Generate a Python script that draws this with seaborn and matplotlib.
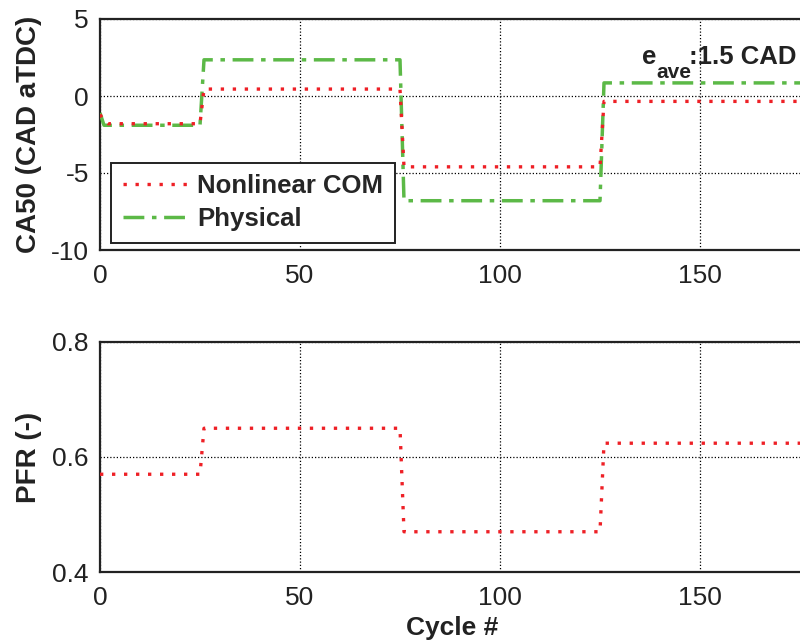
import numpy as np
import pandas as pd
import matplotlib
matplotlib.use("Agg")
import matplotlib.pyplot as plt
import seaborn as sns

# --- data -----------------------------------------------------------------
# breakpoints of the step-wise traces (cycle number, value)
com_cycles = [0, 1, 2, 25, 26, 75, 76, 125, 126, 176]
com_ca50 = [-1.2, -1.6, -1.8, -1.8, 0.45, 0.45, -4.6, -4.6, -0.35, -0.35]

phys_cycles = [0, 1, 25, 26, 75, 76, 125, 126, 176]
phys_ca50 = [-1.1, -1.9, -1.9, 2.35, 2.35, -6.8, -6.8, 0.85, 0.85]

pfr_cycles = [0, 25, 26, 75, 76, 125, 126, 176]
pfr_com = [0.57, 0.57, 0.65, 0.65, 0.47, 0.47, 0.624, 0.624]

x_ticks = [0, 50, 100, 150]
ca50_ticks = [5, 0, -5, -10]
pfr_ticks = [0.8, 0.6, 0.4]

series_names = ["Nonlinear COM", "Physical"]
error_text = ["e", "ave", ":1.5 CAD"]

# --- style ----------------------------------------------------------------
sns.set_style("white")
plt.rcParams["font.family"] = ["Liberation Sans", "DejaVu Sans"]

RED = "#ee2026"
GREEN = "#5cb947"
DOT = (0, (1, 2.6))
DASHDOT = (0, (6.0, 2.2, 1.3, 2.2))

fig = plt.figure(figsize=(8.0, 6.43), dpi=100)
W, H = 800, 643
ax1 = fig.add_axes([100 / W, 1 - 250 / H, 704 / W, 231 / H])
ax2 = fig.add_axes([100 / W, 1 - 572 / H, 704 / W, 230 / H])

df_com = pd.DataFrame({"cycle": com_cycles, "value": com_ca50})
df_phys = pd.DataFrame({"cycle": phys_cycles, "value": phys_ca50})
df_pfr = pd.DataFrame({"cycle": pfr_cycles, "value": pfr_com})

sns.lineplot(data=df_com, x="cycle", y="value", ax=ax1, color=RED,
             linewidth=2.4, label=series_names[0], zorder=4)
sns.lineplot(data=df_phys, x="cycle", y="value", ax=ax1, color=GREEN,
             linewidth=2.5, label=series_names[1], zorder=3)
sns.lineplot(data=df_pfr, x="cycle", y="value", ax=ax2, color=RED,
             linewidth=2.4, legend=False, zorder=4)

ax1.lines[0].set_linestyle(DOT)
ax1.lines[1].set_linestyle(DASHDOT)
ax2.lines[0].set_linestyle(DOT)

for ax, yl, yt in [(ax1, (-10, 5), ca50_ticks), (ax2, (0.4, 0.8), pfr_ticks)]:
    ax.set_xlim(0, 176)
    ax.set_ylim(*yl)
    ax.set_xticks(x_ticks)
    ax.set_yticks(yt)
    ax.set_xticklabels([str(t) for t in x_ticks])
    ax.grid(True, color="black", linestyle=(0, (1, 1.6)), linewidth=0.9)
    ax.tick_params(axis="both", direction="in", length=4, width=1.2,
                   labelsize=19, colors="#222222", labelcolor="#222222")
    ax.tick_params(axis="x", pad=10)
    ax.tick_params(axis="y", pad=8)
    for s in ax.spines.values():
        s.set_linewidth(1.6)
        s.set_color("#222222")
    ax.set_xlabel("")

ax1.set_yticklabels(["5", "0", "-5", "-10"])
ax2.set_yticklabels(["0.8", "0.6", "0.4"])

ax1.set_ylabel("CA50 (CAD aTDC)", fontsize=20, fontweight="bold", color="#222222")
ax2.set_ylabel("PFR (-)", fontsize=20, fontweight="bold", color="#222222")
ax1.yaxis.set_label_coords(-58 / 704, 0.5)
ax2.yaxis.set_label_coords(-58 / 704, 0.5)

ax2.set_xlabel("Cycle #", fontsize=19, fontweight="bold", color="#222222")
ax2.xaxis.set_label_coords(0.5, -0.19)

leg = ax1.legend(loc="lower left", bbox_to_anchor=(11 / 704, 7 / 231),
                 borderaxespad=0, frameon=True, fancybox=False,
                 prop={"weight": "bold", "size": 18.5},
                 handlelength=2.5, handletextpad=0.4, labelspacing=0.35,
                 borderpad=0.45)
leg.get_frame().set_edgecolor("#222222")
leg.get_frame().set_linewidth(1.4)
leg.get_frame().set_alpha(1)

# average error annotation
ax1.text(135.4, 2.1, error_text[0], fontsize=18.5, fontweight="bold",
         color="#222222", ha="left", va="baseline")
ax1.text(139.2, 1.2, error_text[1], fontsize=15, fontweight="bold",
         color="#222222", ha="left", va="baseline")
ax1.text(147.3, 2.05, error_text[2], fontsize=18.5, fontweight="bold",
         color="#222222", ha="left", va="baseline")

fig.savefig("out.png", dpi=100)
